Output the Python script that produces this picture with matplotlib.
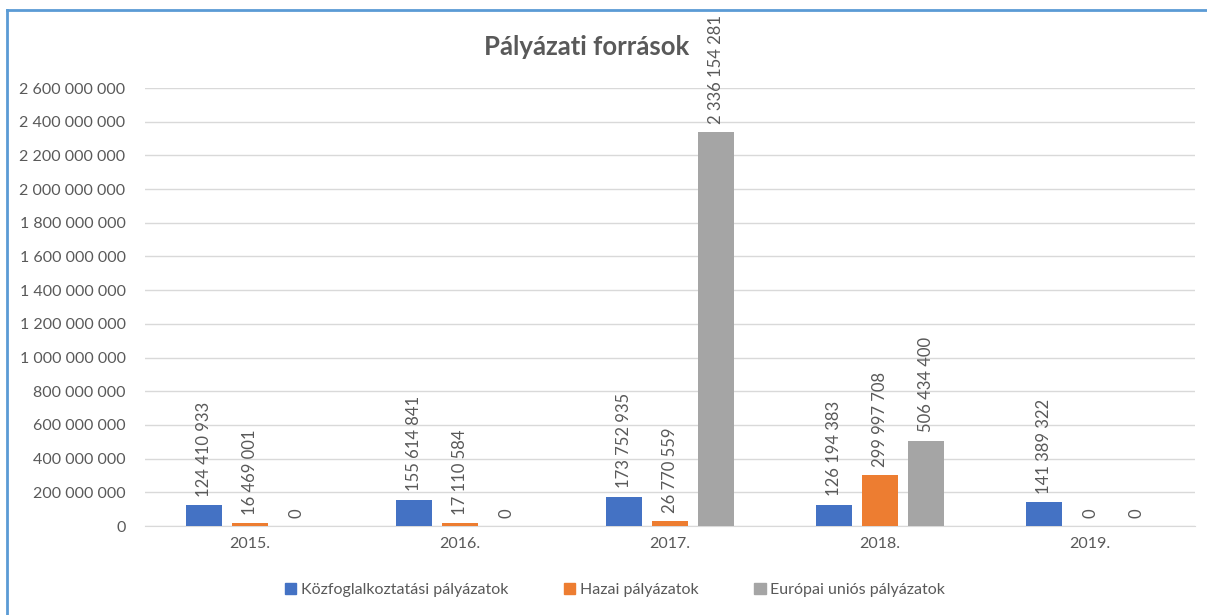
import matplotlib.pyplot as plt
import numpy as np
from matplotlib.patches import Rectangle
from matplotlib.lines import Line2D

years = ["2015.", "2016.", "2017.", "2018.", "2019."]
kozfoglalkoztatasi = [124410933, 155614841, 173752935, 126194383, 141389322]
hazai = [16469001, 17110584, 26770559, 299997708, 0]
europai = [0, 0, 2336154281, 506434400, 0]
series_names = ["Közfoglalkoztatási pályázatok", "Hazai pályázatok", "Európai uniós pályázatok"]
colors = ["#4472C4", "#ED7D31", "#A5A5A5"]
yticks = np.arange(0, 2600000001, 200000000)


def fmt(v):
    return f"{int(v):,}".replace(",", " ")


plt.rcParams["font.family"] = ["Lato", "DejaVu Sans"]
txt = "#595959"

fig = plt.figure(figsize=(12.07, 6.15), dpi=100)
ax = fig.add_axes([145 / 1207, 1 - 526 / 615, 1050 / 1207, (526 - 88) / 615])

x = np.arange(len(years))
width = 0.172
offsets = [-0.22, 0, 0.22]
for vals, off, col, name in zip([kozfoglalkoztatasi, hazai, europai], offsets, colors, series_names):
    bars = ax.bar(x + off, vals, width, color=col, label=name, zorder=3)
    for b, v in zip(bars, vals):
        ax.annotate(fmt(v), (b.get_x() + b.get_width() / 2, v), xytext=(0, 6),
                    textcoords="offset points", rotation=90, ha="center", va="bottom",
                    fontsize=12, color=txt)

ax.set_xlim(-0.5, 4.5)
ax.set_ylim(0, 2600000000)
ax.set_yticks(yticks)
ax.set_yticklabels([fmt(v) for v in yticks])
ax.set_xticks(x)
ax.set_xticklabels(years)
ax.tick_params(length=0, labelsize=11.5, colors=txt)
ax.tick_params(axis="y", pad=14)
ax.tick_params(axis="x", pad=8)
ax.grid(axis="y", color="#D9D9D9", linewidth=1, zorder=0)
for s in ["top", "right", "left"]:
    ax.spines[s].set_visible(False)
ax.spines["bottom"].set_color("#D9D9D9")

fig.text(587 / 1207, 1 - 47 / 615, "Pályázati források", ha="center", va="center",
         fontsize=18.5, fontweight="bold", color=txt)

handles = [Rectangle((0, 0), 1, 1, color=c) for c in colors]
fig.legend(handles, series_names, loc="center", bbox_to_anchor=(615 / 1207, 1 - 590 / 615),
           ncol=3, frameon=False, fontsize=11.5, labelcolor=txt, handlelength=0.7,
           handleheight=0.7, handletextpad=0.3, columnspacing=3.5)

# chart border (blue frame at top and left)
fig.add_artist(Line2D([7 / 1207, 1], [1 - 10 / 615, 1 - 10 / 615], color="#5B9BD5", linewidth=2))
fig.add_artist(Line2D([7 / 1207, 7 / 1207], [0, 1 - 10 / 615], color="#5B9BD5", linewidth=2))

fig.savefig("out.png", dpi=100)
